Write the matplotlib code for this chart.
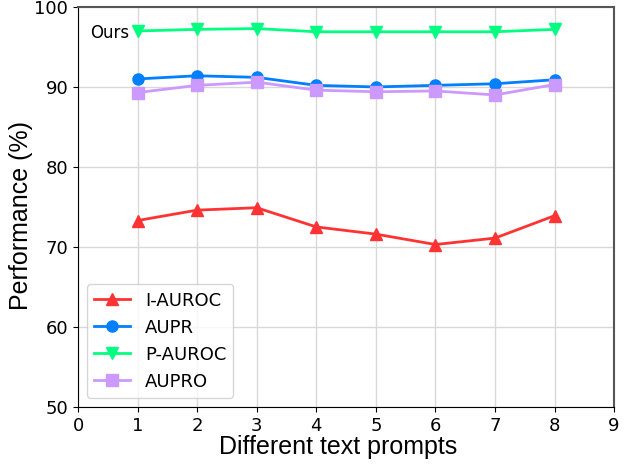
import matplotlib
matplotlib.use('Agg')
import matplotlib.pyplot as plt

# prompt index
prompts = [1, 2, 3, 4, 5, 6, 7, 8]

i_auroc = [73.3, 74.6, 74.9, 72.5, 71.6, 70.3, 71.1, 73.9]
aupr = [91.0, 91.4, 91.2, 90.2, 90.0, 90.2, 90.4, 90.9]
p_auroc = [97.0, 97.2, 97.3, 96.9, 96.9, 96.9, 96.9, 97.2]
aupro = [89.3, 90.2, 90.6, 89.6, 89.4, 89.5, 89.0, 90.3]

fig = plt.figure(figsize=(6.37, 4.65), dpi=100)
ax = fig.add_axes([0.1225, 0.125, 0.8415, 0.86])

ax.plot(prompts, i_auroc, color='#ff3333', marker='^', markersize=8, linewidth=2, label='I-AUROC')
ax.plot(prompts, aupr, color='#0080ff', marker='o', markersize=8, linewidth=2, label='AUPR')
ax.plot(prompts, p_auroc, color='#00ff80', marker='v', markersize=8, linewidth=2, label='P-AUROC')
ax.plot(prompts, aupro, color='#cc99ff', marker='s', markersize=8, linewidth=2, label='AUPRO')

ax.set_xlim(0, 9)
ax.set_ylim(50, 100)
ax.set_xticks(range(0, 10))
ax.set_yticks(range(50, 101, 10))
ax.tick_params(labelsize=13)
ax.grid(True, color='#d9d9d9', linewidth=1)
ax.set_axisbelow(True)

for s in ['top', 'right']:
    ax.spines[s].set_color('#555555')
    ax.spines[s].set_linewidth(1.5)

ax.set_xlabel('Different text prompts', fontsize=18, family='Liberation Sans', labelpad=0)
ax.set_ylabel('Performance (%)', fontsize=18, family='Liberation Sans', labelpad=1)
# labels sit a bit off-centre in the original
ax.xaxis.label.set_x(0.485)
ax.yaxis.label.set_y(0.478)
ax.text(0.2, 96.7, 'Ours', fontsize=12, va='center')

ax.legend(loc='lower left', fontsize=13, handlelength=2, bbox_to_anchor=(0.0, 0.0))

fig.savefig('out.png')
